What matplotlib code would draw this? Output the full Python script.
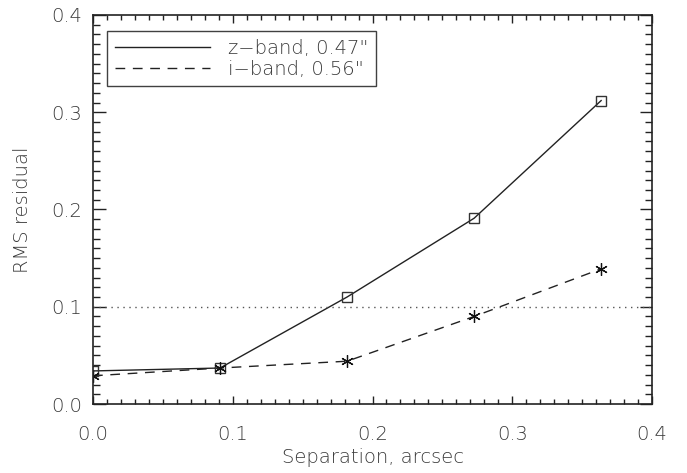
import numpy as np
import matplotlib
matplotlib.use("Agg")
import matplotlib.pyplot as plt
from matplotlib.ticker import MultipleLocator, FormatStrFormatter

# separations (arcsec) and RMS residuals
sep = [0.0, 0.0909, 0.1818, 0.2727, 0.3636]
rms_z = [0.034, 0.037, 0.110, 0.191, 0.312]
rms_i = [0.029, 0.037, 0.044, 0.090, 0.139]
labels = ['z\u2212band, 0.47"', 'i\u2212band, 0.56"']
threshold = 0.1

plt.rcParams['font.family'] = ['DejaVu Sans']
plt.rcParams['font.weight'] = 'light'
plt.rcParams['axes.labelweight'] = 'light'
txt = '#3a3a3a'
fs = 14

fig = plt.figure(figsize=(6.87, 4.73), dpi=100)
ax = fig.add_axes([93/687, 69/473, 559/687, 389/473])

ax.plot(sep, rms_z, '-', color='#222222', lw=1.0, label=labels[0])
ax.plot(sep, rms_i, color='#222222', lw=1.0, dashes=(7, 5.5), label=labels[1])
ax.plot(sep, rms_z, 's', ls='none', mfc='none', mec='#333333', ms=7, mew=1.0)
ax.plot(sep, rms_i, marker=(6, 2, 0), ls='none', color='#111111', ms=9, mew=0.9)
ax.axhline(threshold, color='#555555', lw=1.0, dashes=(1, 3.3))

ax.set_xlim(0, 0.4)
ax.set_ylim(0, 0.4)
ax.xaxis.set_major_locator(MultipleLocator(0.1))
ax.xaxis.set_minor_locator(MultipleLocator(0.01))
ax.yaxis.set_major_locator(MultipleLocator(0.1))
ax.yaxis.set_minor_locator(MultipleLocator(0.01))
ax.xaxis.set_major_formatter(FormatStrFormatter('%.1f'))
ax.yaxis.set_major_formatter(FormatStrFormatter('%.1f'))

ax.tick_params(which='both', direction='in', top=True, right=True,
               colors='#222222', labelcolor=txt, labelsize=fs, width=1)
ax.tick_params(axis='x', which='major', length=6, pad=15)
ax.tick_params(axis='x', which='minor', length=3.5)
ax.tick_params(axis='y', which='major', length=9, pad=8)
ax.tick_params(axis='y', which='minor', length=5)
for s in ax.spines.values():
    s.set_linewidth(1.2)
    s.set_color('#222222')

ax.set_xlabel('Separation, arcsec', fontsize=fs, color=txt, labelpad=3, fontweight='light')
ax.set_ylabel('RMS residual', fontsize=fs, color=txt, labelpad=14, fontweight='light')

leg = ax.legend(loc='upper left', bbox_to_anchor=(0.025, 0.959), borderaxespad=0,
                fontsize=fs, handlelength=4.9, handletextpad=0.9, labelspacing=0.1,
                borderpad=0.4, fancybox=False, frameon=True)
leg.get_frame().set_edgecolor('#111111')
leg.get_frame().set_linewidth(1.0)
for t in leg.get_texts():
    t.set_color(txt)

fig.savefig('out.png', dpi=100)
